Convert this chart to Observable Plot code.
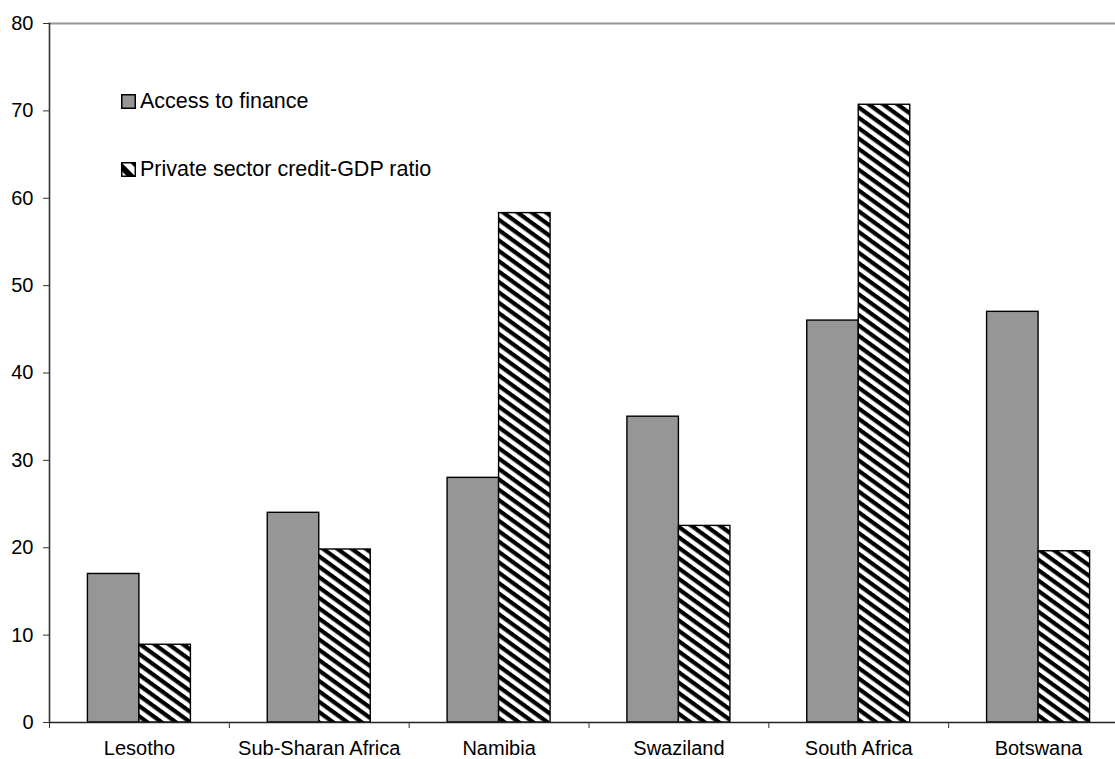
<!DOCTYPE html>
<html>
<head>
<meta charset="utf-8">
<script src="https://cdn.jsdelivr.net/npm/d3@7"></script>
<script src="https://cdn.jsdelivr.net/npm/@observablehq/plot@0.6"></script>
<style>
  html, body { margin: 0; padding: 0; background: #fff; overflow: hidden; }
  #wrap { position: relative; width: 1115px; height: 759px; overflow: hidden; font-family: "Liberation Sans", Arial, sans-serif; }
  #legend { position: absolute; left: 121px; top: 94px; font-size: 21.5px; color: #000; }
  .item { position: absolute; left: 0; display: flex; align-items: center; white-space: nowrap; }
  .item svg { display: block; margin-right: 4px; }
</style>
</head>
<body>
<div id="wrap">
  <div id="chart"></div>
  <div id="legend"></div>
</div>
<script>
const countries = ["Lesotho", "Sub-Sharan Africa", "Namibia", "Swaziland", "South Africa", "Botswana"];
const accessToFinance = [17, 24, 28, 35, 46, 47];
const privateCredit = [8.9, 19.8, 58.3, 22.5, 70.7, 19.6];
const yTicks = [0, 10, 20, 30, 40, 50, 60, 70, 80];
const seriesNames = ["Access to finance", "Private sector credit-GDP ratio"];

const data = countries.map((c, i) => ({country: c, access: accessToFinance[i], credit: privateCredit[i]}));

const W = 1128, marginLeft = 49, marginRight = 0;
const bw = (W - marginLeft - marginRight) / countries.length;
const barW = 51.5;
const gray = "#969696";

const chart = Plot.plot({
  width: W,
  height: 759,
  marginLeft, marginRight,
  marginTop: 23,
  marginBottom: 37,
  style: {maxWidth: "none", fontFamily: "'Liberation Sans', Arial, sans-serif", fontSize: "20px", color: "#000", background: "#fff", overflow: "visible"},
  x: {domain: countries, padding: 0, round: false, label: null},
  y: {domain: [0, 80], label: null},
  marks: [
    Plot.barY(data, {x: "country", y: "access", fill: gray, stroke: "#000", strokeWidth: 1.4,
      insetLeft: bw / 2 - barW, insetRight: bw / 2}),
    Plot.barY(data, {x: "country", y: "credit", fill: "url(#hatch)", stroke: "#000", strokeWidth: 1.4,
      insetLeft: bw / 2, insetRight: bw / 2 - barW}),
    Plot.frame({anchor: "top", stroke: gray, strokeWidth: 2}),
    Plot.frame({anchor: "left", stroke: "#333", strokeWidth: 1.6}),
    Plot.ruleY([0], {stroke: "#222", strokeWidth: 1.4}),
    Plot.axisY({ticks: yTicks, tickSize: 6, tickPadding: 10, fontSize: 20, label: null, stroke: "#333"}),
    Plot.axisX({tickSize: 6, tickFormat: () => "", dx: -bw / 2, label: null, stroke: "#333"}),
    Plot.axisX({tickSize: 0, tickPadding: 18, fontSize: 20, label: null})
  ]
});

// hatch pattern definition
const ns = "http://www.w3.org/2000/svg";
function addHatch(svg, id, period, rot) {
  let defs = svg.querySelector("defs");
  if (!defs) { defs = document.createElementNS(ns, "defs"); svg.insertBefore(defs, svg.firstChild); }
  const p = document.createElementNS(ns, "pattern");
  p.setAttribute("id", id);
  p.setAttribute("patternUnits", "userSpaceOnUse");
  p.setAttribute("width", 10);
  p.setAttribute("height", period);
  p.setAttribute("patternTransform", `rotate(${rot})`);
  const bg = document.createElementNS(ns, "rect");
  bg.setAttribute("width", 10); bg.setAttribute("height", period); bg.setAttribute("fill", "#fff");
  const r = document.createElementNS(ns, "rect");
  r.setAttribute("width", 10); r.setAttribute("height", period * 0.5); r.setAttribute("fill", "#000");
  p.appendChild(bg); p.appendChild(r);
  defs.appendChild(p);
}
addHatch(chart, "hatch", 8.4, 36);
document.getElementById("chart").appendChild(chart);

// legend
const legend = document.getElementById("legend");
const tops = [0, 67.7];
seriesNames.forEach((name, i) => {
  const item = document.createElement("div");
  item.className = "item";
  item.style.top = (tops[i] - 5) + "px";
  const sw = document.createElementNS(ns, "svg");
  sw.setAttribute("width", 15); sw.setAttribute("height", 15);
  if (i === 0) {
    sw.innerHTML = `<rect x="0.75" y="0.75" width="13.5" height="13.5" fill="${gray}" stroke="#000" stroke-width="1.5"/>`;
  } else {
    sw.innerHTML = `<defs><pattern id="lh" patternUnits="userSpaceOnUse" width="20" height="12" patternTransform="translate(0,0) rotate(45)"><rect width="20" height="12" fill="#000"/><rect y="6" width="20" height="6" fill="#fff"/></pattern></defs>
      <rect x="0.75" y="0.75" width="13.5" height="13.5" fill="url(#lh)" stroke="#000" stroke-width="1.5"/>`;
  }
  const t = document.createElement("span");
  t.textContent = name;
  item.appendChild(sw);
  item.appendChild(t);
  legend.appendChild(item);
});
</script>
</body>
</html>
